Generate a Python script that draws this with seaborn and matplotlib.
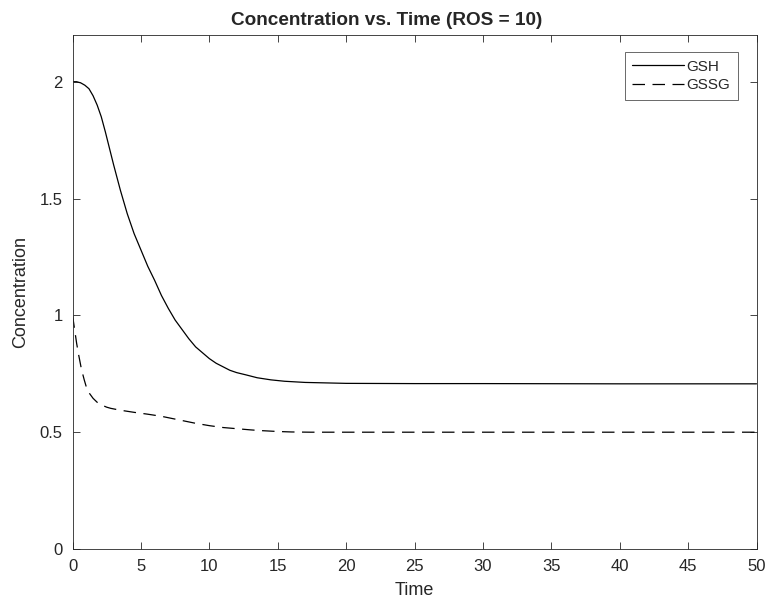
import matplotlib
matplotlib.use("Agg")
import matplotlib.pyplot as plt
import seaborn as sns
import pandas as pd

gsh_t = [0, 0.3, 0.6, 0.9, 1.2, 1.5, 1.8, 2.1, 2.4, 2.7, 3.0, 3.5, 4.0, 4.5, 5.0, 5.5, 6.0,
         6.5, 7.0, 7.5, 8.0, 8.5, 9.0, 9.5, 10, 10.5, 11, 11.5, 12, 12.7, 13.5, 14.5, 15.5,
         17, 18.5, 20, 25, 30, 40, 50]
gsh_v = [2.0, 2.0, 1.995, 1.985, 1.97, 1.94, 1.90, 1.85, 1.785, 1.715, 1.645, 1.535, 1.435,
         1.35, 1.28, 1.21, 1.15, 1.085, 1.03, 0.98, 0.94, 0.90, 0.865, 0.84, 0.815, 0.795,
         0.78, 0.765, 0.755, 0.745, 0.733, 0.724, 0.718, 0.713, 0.711, 0.709, 0.708, 0.708,
         0.707, 0.707]

gssg_t = [0, 0.15, 0.3, 0.45, 0.65, 0.85, 1.0, 1.25, 1.5, 1.8, 2.1, 2.5, 2.8, 3.5, 4.5, 5.5,
          6.5, 7.25, 8, 9, 10, 11, 12, 13, 13.7, 15, 16, 17.4, 20, 30, 50]
gssg_v = [1.0, 0.94, 0.88, 0.83, 0.77, 0.725, 0.695, 0.665, 0.645, 0.628, 0.617, 0.607,
          0.602, 0.594, 0.585, 0.577, 0.568, 0.559, 0.55, 0.538, 0.528, 0.52, 0.515, 0.51,
          0.507, 0.503, 0.501, 0.5, 0.5, 0.5, 0.5]

sns.set_style("ticks")
plt.rcParams['font.family'] = ['Liberation Sans', 'DejaVu Sans']

fig = plt.figure(figsize=(7.66, 5.98), dpi=100)
ax = fig.add_axes([0.0947, 0.0819, 0.8929, 0.8596])

df1 = pd.DataFrame({"Time": gsh_t, "Concentration": gsh_v})
df2 = pd.DataFrame({"Time": gssg_t, "Concentration": gssg_v})
sns.lineplot(data=df1, x="Time", y="Concentration", ax=ax, color="black", lw=0.9, label="GSH")
sns.lineplot(data=df2, x="Time", y="Concentration", ax=ax, color="black", lw=0.9,
             label="GSSG")
ax.lines[1].set_dashes((10, 6))

ax.set_xlim(0, 50)
ax.set_ylim(0, 2.2)
ax.set_xticks(range(0, 51, 5))
ax.set_yticks([0, 0.5, 1, 1.5, 2])
ax.set_yticklabels(["0", "0.5", "1", "1.5", "2"])
for s in ax.spines.values():
    s.set_visible(True)
    s.set_color("#262626")
    s.set_linewidth(0.6)
ax.tick_params(direction="in", length=5, width=0.6, color="#262626", labelsize=12,
               labelcolor="#262626", top=True, right=True, pad=7)
ax.set_xlabel("Time", fontsize=13, color="#262626", labelpad=6)
ax.set_ylabel("Concentration", fontsize=13, color="#262626", labelpad=7.5)
ax.set_title("Concentration vs. Time (ROS = 10)", fontsize=13.7, fontweight="bold", pad=7.5,
             x=0.46)

leg = ax.legend(loc="upper right", bbox_to_anchor=(0.973, 0.967), fontsize=11, frameon=True,
                fancybox=False, handlelength=3.4, handletextpad=0.15, borderpad=0.5,
                labelspacing=0.3, borderaxespad=0)
leg.get_frame().set_edgecolor("#262626")
leg.get_frame().set_linewidth(0.6)

fig.savefig("out.png", dpi=100)
